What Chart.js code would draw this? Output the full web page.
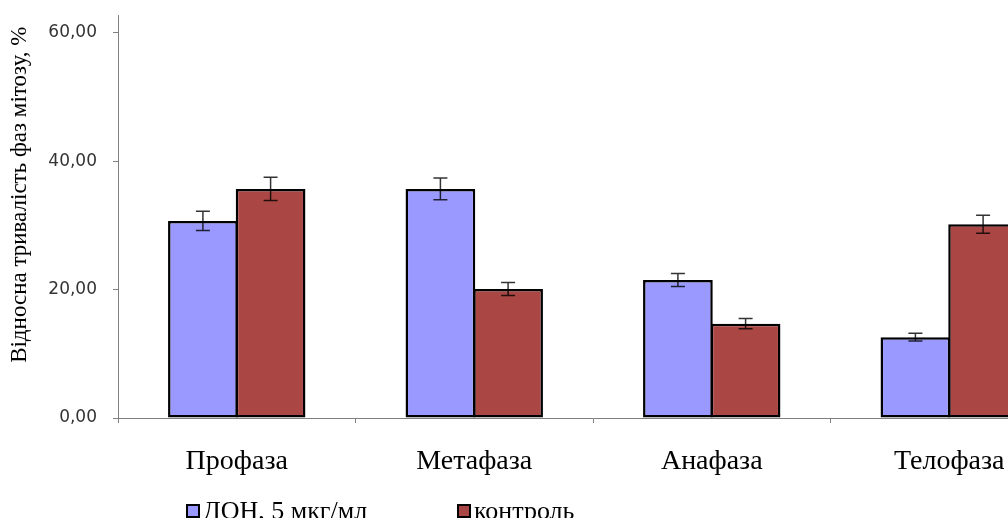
<!DOCTYPE html>
<html>
<head>
<meta charset="utf-8">
<script src="https://cdn.jsdelivr.net/npm/chart.js@4"></script>
<style>
  html, body { margin: 0; padding: 0; background: #fff; overflow: hidden; }
  #wrap { position: relative; width: 1008px; height: 518px; overflow: hidden; }
  #c { position: absolute; left: 0; top: 0; }
  #legend { position: absolute; top: 496px; left: 0; font-family: 'Liberation Serif', serif; font-size: 26px; color: #000; }
  #legend .item { position: absolute; white-space: nowrap; display: flex; align-items: center; }
  #legend .box { width: 10px; height: 10px; border: 2px solid #000; margin-right: 3px; }
</style>
</head>
<body>
<div id="wrap">
  <canvas id="c" width="1080" height="518"></canvas>
  <div id="legend"></div>
</div>
<script>
const phases = ['Профаза', 'Метафаза', 'Анафаза', 'Телофаза'];
const donValues = [30.7, 35.7, 21.5, 12.6];
const donErrors = [1.5, 1.7, 1.0, 0.6];
const controlValues = [35.7, 20.1, 14.7, 30.2];
const controlErrors = [1.8, 1.0, 0.8, 1.4];
const yTicks = [0, 20, 40, 60];
const seriesNames = ['ДОН, 5 мкг/мл', 'контроль'];
const seriesColors = ['#9999FF', '#AA4643'];

const errorBars = {
    id: 'errorBars',
    afterDatasetsDraw(chart) {
        const ctx = chart.ctx;
        const y = chart.scales.y;
        ctx.save();
        ctx.strokeStyle = 'rgba(0,0,0,0.8)';
        ctx.lineWidth = 1.5;
        chart.data.datasets.forEach((ds, di) => {
            const meta = chart.getDatasetMeta(di);
            meta.data.forEach((bar, i) => {
                const v = ds.data[i], e = ds.errors[i];
                const top = y.getPixelForValue(v + e);
                const bot = y.getPixelForValue(v - e);
                const x = bar.x;
                ctx.beginPath();
                ctx.moveTo(x, top); ctx.lineTo(x, bot);
                ctx.moveTo(x - 7, top); ctx.lineTo(x + 7, top);
                ctx.moveTo(x - 7, bot); ctx.lineTo(x + 7, bot);
                ctx.stroke();
            });
        });
        ctx.restore();
    }
};

const chart = new Chart(document.getElementById('c'), {
    type: 'bar',
    data: {
        labels: phases,
        datasets: [
            { label: seriesNames[0], data: donValues, errors: donErrors, backgroundColor: seriesColors[0] },
            { label: seriesNames[1], data: controlValues, errors: controlErrors, backgroundColor: seriesColors[1] }
        ]
    },
    options: {
        responsive: false,
        animation: false,
        layout: { padding: { top: 15, right: 12, left: 0, bottom: 0 } },
        datasets: {
            bar: {
                borderColor: '#000',
                borderWidth: 2.5,
                borderSkipped: false,
                categoryPercentage: 0.57,
                barPercentage: 1.03
            }
        },
        plugins: {
            legend: { display: false },
            tooltip: { enabled: false }
        },
        scales: {
            x: {
                border: { color: '#808080', width: 1 },
                grid: { drawOnChartArea: false, drawTicks: true, tickLength: 5, color: '#808080', offset: true },
                ticks: { font: { family: 'Liberation Serif', size: 28 }, color: '#000', padding: 22, maxRotation: 0 },
                afterFit(scale) {
                    scale.height = 100;
                    scale.paddingLeft = 0;
                    scale.paddingRight = 0;
                }
            },
            y: {
                min: 0,
                max: 62.8,
                border: { color: '#808080', width: 1 },
                grid: { drawOnChartArea: false, drawTicks: true, tickLength: 5, color: '#808080' },
                afterBuildTicks(scale) {
                    scale.ticks = yTicks.map(v => ({ value: v }));
                },
                ticks: {
                    font: { family: 'DejaVu Sans', size: 17 },
                    color: '#333',
                    padding: 16,
                    callback: v => v.toFixed(2).replace('.', ',')
                },
                title: {
                    display: true,
                    text: 'Відносна тривалість фаз мітозу, %\u00A0\u00A0',
                    align: 'end',
                    font: { family: 'Liberation Serif', size: 23 },
                    color: '#000',
                    padding: { top: 6, bottom: 0 }
                },
                afterFit(scale) {
                    scale.width = 118;
                    scale.paddingTop = 0;
                    scale.paddingBottom = 0;
                }
            }
        }
    },
    plugins: [errorBars]
});

// legend built from the chart's datasets
const legendPos = [186, 457];
const legendEl = document.getElementById('legend');
chart.data.datasets.forEach((ds, i) => {
    const item = document.createElement('div');
    item.className = 'item';
    item.style.left = legendPos[i] + 'px';
    item.innerHTML = '<span class="box" style="background:' + ds.backgroundColor + '"></span>' + ds.label;
    legendEl.appendChild(item);
});
</script>
</body>
</html>
